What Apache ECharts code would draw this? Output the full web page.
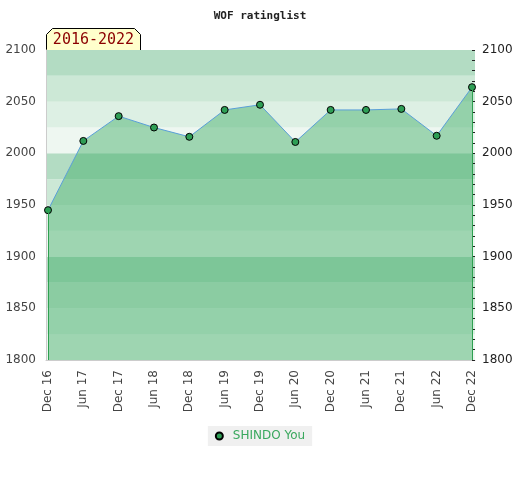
<!DOCTYPE html>
<html>
<head>
<meta charset="utf-8">
<script src="https://cdn.jsdelivr.net/npm/echarts@6/dist/echarts.min.js"></script>
<style>html,body{margin:0;padding:0;background:#fff}#c{width:520px;height:480px}</style>
</head>
<body>
<div id="c"></div>
<script>
const categories = ['Dec 16','Jun 17','Dec 17','Jun 18','Dec 18','Jun 19','Dec 19','Jun 20','Dec 20','Jun 21','Dec 21','Jun 22','Dec 22'];
const ratings = [1945, 2012, 2036, 2025, 2016, 2042, 2047, 2011, 2042, 2042, 2043, 2017, 2064];
const seriesName = 'SHINDO You';
const periodLabel = '2016-2022';
const titleText = 'WOF ratinglist';
const yMin = 1800, yMax = 2100;

const chart = echarts.init(document.getElementById('c'), null, {renderer: 'canvas'});
const last = ratings.length - 1;
const option = {
  animation: false,
  backgroundColor: '#fff',
  title: {
    text: titleText, left: 'center', top: 6,
    textStyle: {fontFamily: 'DejaVu Sans Mono', fontSize: 11, fontWeight: 'bold', color: '#222'}
  },
  legend: {
    data: [{name: seriesName, icon: 'circle'}],
    bottom: 34, left: 'center',
    backgroundColor: '#f0f0f0', padding: [4, 7, 4, 7],
    itemWidth: 7, itemHeight: 7, itemGap: 6,
    textStyle: {color: '#3aa85e', fontFamily: 'DejaVu Sans', fontSize: 12, padding: [0, 0, 0, 5]}
  },
  grid: [
    {left: 46, right: 45, top: 50, bottom: 120},
    {left: 48, right: 48, top: 50, bottom: 120}
  ],
  xAxis: [
    {type: 'value', gridIndex: 0, min: 0, max: 1, show: true,
     axisLine: {show: true, lineStyle: {color: '#ccc'}}, axisTick: {show: false},
     axisLabel: {show: false}, splitLine: {show: false}},
    {type: 'category', gridIndex: 1, data: categories, boundaryGap: false,
     axisLine: {show: false}, axisTick: {show: false}, splitLine: {show: false},
     axisLabel: {rotate: 90, margin: 10, fontFamily: 'DejaVu Sans', fontSize: 12, color: '#444', interval: 0}}
  ],
  yAxis: [
    {type: 'value', gridIndex: 0, min: yMin, max: yMax, interval: 25, position: 'left',
     axisLine: {show: true, lineStyle: {color: '#ccc'}}, axisTick: {show: false},
     splitLine: {show: false},
     splitArea: {show: true, areaStyle: {color: ['#eef7f1', '#ddf0e4', '#cce8d6', '#b3dcc3']}},
     axisLabel: {margin: 10, fontFamily: 'DejaVu Sans', fontSize: 12, color: '#444',
       formatter: v => (v % 50 === 0 ? String(v) : '')}},
    {type: 'value', gridIndex: 1, min: yMin, max: yMax, interval: 10, position: 'right',
     axisLine: {show: false}, splitLine: {show: false}, splitArea: {show: false},
     axisTick: {show: true, length: 3, lineStyle: {color: '#222'}},
     axisLabel: {margin: 10, fontFamily: 'DejaVu Sans', fontSize: 12, color: '#222',
       formatter: v => (v % 50 === 0 ? String(v) : '')}}
  ],
  series: [{
    name: seriesName, type: 'line', xAxisIndex: 1, yAxisIndex: 1,
    data: ratings,
    symbol: 'circle', symbolSize: 7,
    lineStyle: {color: '#5a9fd8', width: 1},
    itemStyle: {color: '#2e9e55', borderColor: '#000', borderWidth: 1},
    areaStyle: {color: 'rgb(60,170,100)', opacity: 0.45},
    markLine: {
      silent: true, symbol: 'none', label: {show: false},
      lineStyle: {color: '#2ea050', width: 1, type: 'solid'},
      data: [
        [{coord: [categories[0], ratings[0]]}, {coord: [categories[0], yMin]}],
        [{coord: [categories[last], ratings[last]]}, {coord: [categories[last], yMin]}]
      ]
    },
    z: 3
  }],
  graphic: [{
    type: 'group', left: 46, top: 28, children: [
      {type: 'polygon', shape: {points: [[0,22],[0,6],[6,0],[88,0],[94,6],[94,22]]},
       style: {fill: '#ffffcc', stroke: '#000', lineWidth: 1}},
      {type: 'text', x: 47, y: 12,
       style: {text: periodLabel, fill: '#8b0000', font: '15px "DejaVu Sans Mono"', align: 'center', verticalAlign: 'middle'}}
    ]
  }]
};
chart.setOption(option);
</script>
</body>
</html>
